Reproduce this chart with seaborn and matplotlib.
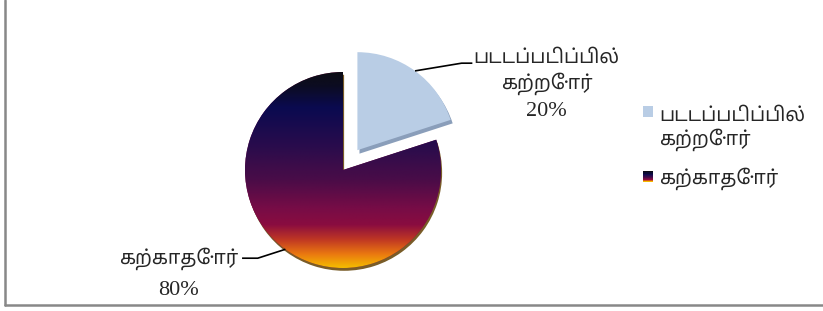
import numpy as np
import matplotlib
matplotlib.use("Agg")
import matplotlib.pyplot as plt
import matplotlib.patheffects as pe
import seaborn as sns
from matplotlib.colors import LinearSegmentedColormap
from matplotlib.legend_handler import HandlerBase
from matplotlib.patches import Rectangle
from matplotlib.lines import Line2D

# data
labels = ["படடப்படிப்பில்\nகற்றோர்", "கற்காதோர்"]
values = [20, 80]
explode = [0.25, 0.0]

light_blue = "#b9cde5"
grad_stops = [0.0, 0.07, 0.18, 0.38, 0.55, 0.70, 0.78, 0.86, 0.93, 1.0]
grad_colors = ["#0c0c14", "#0c0c22", "#0a0a50", "#2a0c4c", "#4a0c48",
               "#780c46", "#8a0c40", "#c23a22", "#ea7810", "#f4bc00"]
cmap = LinearSegmentedColormap.from_list("pie_grad", list(zip(grad_stops, grad_colors)))

sns.set_theme(style="white")
plt.rcParams["font.family"] = ["Liberation Serif", "Noto Sans Tamil", "DejaVu Sans"]

fig = plt.figure(figsize=(8.23, 3.11), dpi=100)

# axes sized so that radius 1 = 98 px, pie centre at (343, 170) px from top-left
R = 98
ax = fig.add_axes([(343 - 2 * R) / 823, (311 - 170 - 1.4 * R) / 311, 4 * R / 823, 2.8 * R / 311])

wedges, _ = ax.pie(values, explode=explode, startangle=90, counterclock=False,
                   colors=[light_blue, grad_colors[5]], radius=1,
                   wedgeprops=dict(linewidth=0))

# bevel-like shadows
wedges[0].set_path_effects([pe.SimplePatchShadow(offset=(1.5, -2.5), shadow_rgbFace="#8a9eba", alpha=1),
                            pe.Normal()])
wedges[1].set_path_effects([pe.SimplePatchShadow(offset=(0.8, -2.0), shadow_rgbFace="#6a4a10", alpha=0.9),
                            pe.Normal()])

# vertical gradient clipped to the big wedge
grad = np.linspace(0, 1, 256).reshape(-1, 1)
im = ax.imshow(grad, cmap=cmap, extent=(-1, 1, -1, 1), origin="upper",
               aspect="auto", zorder=wedges[1].get_zorder() + 0.1)
im.set_clip_path(wedges[1])

ax.set_xlim(-2, 2)
ax.set_ylim(-1.4, 1.4)
ax.set_aspect("auto")
ax.set_axis_off()

# data labels with leader lines
label_pos = [(2.08, 1.14), (-1.68, -0.91)]
label_steps = [[0, 0.26, 0.54], [0, 0.32]]
elbows = [[(1.21, 1.09), (1.32, 1.09)], [(-0.87, -0.90), (-1.03, -0.90)]]
total = sum(values)
for w, lab, v, (tx, ty), steps, elb in zip(wedges, labels, values, label_pos, label_steps, elbows):
    mid = np.deg2rad((w.theta1 + w.theta2) / 2)
    cx, cy = w.center
    sx, sy = cx + w.r * np.cos(mid), cy + w.r * np.sin(mid)
    xs = [sx] + [p[0] for p in elb]
    ys = [sy] + [p[1] for p in elb]
    ax.plot(xs, ys, color="black", lw=1.2, solid_capstyle="butt", clip_on=False)
    lines = lab.split("\n") + [f"{v / total * 100:.0f}%"]
    for dy, line in zip(steps, lines):
        size = 16 if line.endswith("%") else 14
        ax.text(tx, ty - dy, line, ha="center", va="center", fontsize=size, clip_on=False)


class SquareHandler(HandlerBase):
    # small square, raised to the first line of a wrapped label
    def __init__(self, color, n_lines=1, gradient=None):
        super().__init__()
        self.color, self.n_lines, self.gradient = color, n_lines, gradient

    def create_artists(self, legend, orig_handle, xdescent, ydescent, width, height, fontsize, trans):
        lift = (self.n_lines - 1) * fontsize * 0.88
        y_base = -ydescent + lift
        if self.gradient is None:
            return [Rectangle((-xdescent, y_base), width, height, facecolor=self.color,
                              edgecolor="none", transform=trans)]
        n = 10
        arts = []
        for i in range(n):
            y0 = y_base + height * (1 - (i + 1) / n)
            arts.append(Rectangle((-xdescent, y0), width, height / n + 0.05,
                                  facecolor=self.gradient(i / (n - 1)), edgecolor="none", transform=trans))
        return arts


fig.legend([wedges[0], wedges[1]], labels, loc="upper left",
           bbox_to_anchor=(643 / 823, 1 - 108 / 311), frameon=False,
           fontsize=14, handlelength=0.5, handleheight=0.5, handletextpad=0.35,
           labelspacing=0.85, borderpad=0, borderaxespad=0,
           handler_map={wedges[0]: SquareHandler(light_blue, n_lines=2),
                        wedges[1]: SquareHandler(None, gradient=cmap)})

# outer chart border (left and bottom visible)
fig.add_artist(Line2D([5 / 823, 5 / 823], [1, 1 - 305 / 311], color="#888888", lw=1.8))
fig.add_artist(Line2D([5 / 823, 1], [1 - 305 / 311, 1 - 305 / 311], color="#888888", lw=1.8))

fig.savefig("out.png", dpi=100)
